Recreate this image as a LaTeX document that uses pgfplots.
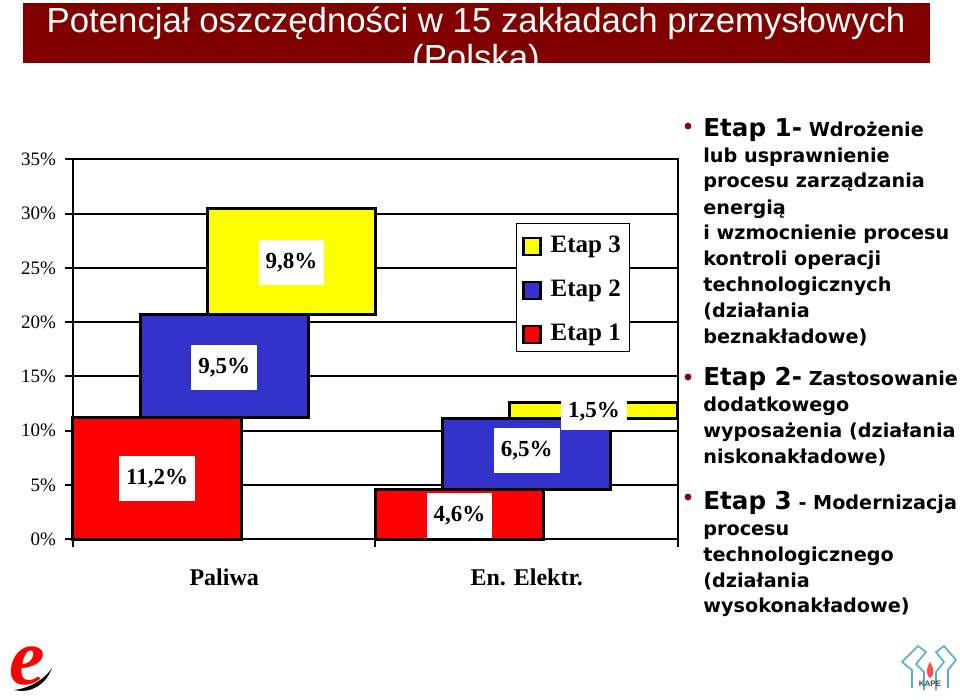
\documentclass[border=0pt]{standalone}
\usepackage{pgfplots}
\pgfplotsset{compat=1.18}
\usepackage{fontspec}
\setmainfont{Liberation Serif}
\newfontfamily\arial{Liberation Sans}
\newfontfamily\dvs{DejaVu Sans}
\definecolor{etapred}{RGB}{255,0,0}
\definecolor{etapblue}{RGB}{51,51,204}
\definecolor{etapyel}{RGB}{255,255,0}
\definecolor{titlered}{RGB}{128,0,0}
\definecolor{bulletred}{RGB}{128,0,16}
\definecolor{kapeblue}{RGB}{90,170,210}
\begin{document}
\begin{tikzpicture}
\path[use as bounding box] (0,0) rectangle (480pt,-350pt);
\begin{scope}[x=0.5pt,y=-0.5pt]
  % title bar
  \fill[titlered] (23,3) rectangle (930,63);
  \begin{scope}
    \clip (23,3) rectangle (930,63);
    \node[anchor=base, text=white, inner sep=0pt, font=\arial\fontsize{17.4}{20}\selectfont] at (476,33) {Potencjał oszczędności w 15 zakładach przemysłowych};
    \node[anchor=base, text=white, inner sep=0pt, font=\arial\fontsize{17.4}{20}\selectfont] at (476,70) {(Polska)};
  \end{scope}
  % right-hand text (anchor = baseline of the last line; 26px per line)
  \fill[bulletred] (688,126) circle (1.7pt);
  \fill[bulletred] (688,377) circle (1.7pt);
  \fill[bulletred] (688,497) circle (1.7pt);
  \node[anchor=base west, inner sep=0pt, align=left, font=\dvs\bfseries\fontsize{9.6}{13}\selectfont] at (703,344)
    {{\fontsize{12.3}{13}\selectfont Etap 1-} Wdrożenie\\lub usprawnienie\\procesu zarządzania\\energią\\i wzmocnienie procesu\\kontroli operacji\\technologicznych\\(działania\\beznakładowe)};
  \node[anchor=base west, inner sep=0pt, align=left, font=\dvs\bfseries\fontsize{9.6}{13}\selectfont] at (703,464)
    {{\fontsize{12.3}{13}\selectfont Etap 2-} Zastosowanie\\dodatkowego\\wyposażenia (działania\\niskonakładowe)};
  \node[anchor=base west, inner sep=0pt, align=left, font=\dvs\bfseries\fontsize{9.6}{13}\selectfont] at (703,613)
    {{\fontsize{12.3}{13}\selectfont Etap 3} - Modernizacja\\procesu\\technologicznego\\(działania\\wysokonakładowe)};
  % logos (decorative)
  \fill[black] (14,690) .. controls (30,688) and (44,680) .. (52,668) .. controls (46,684) and (32,694) .. (14,690) -- cycle;
  \node[inner sep=0pt, font=\bfseries\itshape\fontsize{40}{40}\selectfont, text=etapred] at (27,666) {e};
  \draw[kapeblue, line width=0.8pt] (912,688) -- (912,670) -- (902,662) -- (918,646) -- (926,652) -- (916,664) -- (924,672) -- (924,690);
  \draw[kapeblue, line width=0.8pt] (948,688) -- (948,670) -- (956,660) -- (944,646) -- (936,652) -- (944,662) -- (936,672) -- (936,690);
  \fill[etapred!70] (930,662) .. controls (925,670) and (927,676) .. (930,678) .. controls (934,676) and (935,670) .. (930,662);
  \node[font=\arial\bfseries\fontsize{4}{4}\selectfont, text=black!70] at (930,684) {KAPE};
\end{scope}
\begin{axis}[
  at={(36.5pt,-269.65pt)}, anchor=south west,
  scale only axis, width=302.5pt, height=190pt,
  xmin=0, xmax=9, ymin=0, ymax=35,
  clip=false,
  axis line style={black, line width=1pt},
  ytick={0,5,...,35},
  yticklabel={\pgfmathprintnumber[assume math mode=true]{\tick}\%},
  yticklabel style={font=\fontsize{9.5}{11}\selectfont, xshift=-1pt},
  ymajorgrids, grid style={black, line width=1pt},
  ytick pos=left, xtick pos=bottom,
  tick align=outside, major tick length=4pt,
  tick style={black, line width=1pt},
  xtick={0,4.5,9}, xticklabels={},
  extra x ticks={2.25,6.75},
  extra x tick labels={Paliwa,En. Elektr.},
  extra x tick style={major tick length=0pt, xticklabel style={font=\bfseries\fontsize{12}{14}\selectfont, anchor=base, yshift=-23pt}},
  reverse legend,
  legend style={at={(0.732,0.832)}, anchor=north west, draw=black, line width=0.6pt, fill=white,
    font=\bfseries\fontsize{12.5}{14}\selectfont, row sep=8pt, inner sep=3pt,
    nodes={inner sep=1.5pt, text height=10pt, text depth=1pt}},
  legend cell align=left,
  legend image code/.code={\draw[#1, line width=1.2pt] (0pt,-5.5pt) rectangle (8.5pt,3pt); \path[draw=none, fill=none] (0pt,0pt) -- (12pt,0pt);},
]
% Paliwa
\addplot[fill=etapred, draw=black, line width=1.5pt] coordinates {(0,0) (0,11.2) (2.5,11.2) (2.5,0)} --cycle;
\addlegendentry{Etap 1}
\addplot[fill=etapblue, draw=black, line width=1.5pt] coordinates {(1,11.2) (1,20.7) (3.5,20.7) (3.5,11.2)} --cycle;
\addlegendentry{Etap 2}
\addplot[fill=etapyel, draw=black, line width=1.5pt] coordinates {(2,20.7) (2,30.5) (4.5,30.5) (4.5,20.7)} --cycle;
\addlegendentry{Etap 3}
% En. Elektr.
\addplot[fill=etapred, draw=black, line width=1.5pt, forget plot] coordinates {(4.5,0) (4.5,4.6) (7,4.6) (7,0)} --cycle;
\addplot[fill=etapblue, draw=black, line width=1.5pt, forget plot] coordinates {(5.5,4.6) (5.5,11.1) (8,11.1) (8,4.6)} --cycle;
\addplot[fill=etapyel, draw=black, line width=1.5pt, forget plot] coordinates {(6.5,11.1) (6.5,12.6) (9,12.6) (9,11.1)} --cycle;
% value labels
\addplot[draw=none, mark=none, forget plot, nodes near coords={\pgfplotspointmeta\%}, point meta=explicit symbolic,
  nodes near coords align=center,
  every node near coord/.append style={fill=white, text=black, font=\bfseries\fontsize{11.5}{12}\selectfont, inner xsep=3.5pt, minimum height=22.5pt, anchor=center}]
  table[meta=lab] {
x y lab
1.25 5.6 11,2
2.25 15.85 9,5
3.25 25.5 9,8
5.75 2.2 4,6
6.75 8.2 6,5
};
\addplot[draw=none, mark=none, forget plot, nodes near coords={\pgfplotspointmeta\%}, point meta=explicit symbolic,
  nodes near coords align=center,
  every node near coord/.append style={fill=white, text=black, font=\bfseries\fontsize{11.5}{12}\selectfont, inner xsep=3.5pt, minimum height=18.5pt, anchor=center}]
  table[meta=lab] {
x y lab
7.75 11.8 1,5
};
\end{axis}
\end{tikzpicture}
\end{document}
